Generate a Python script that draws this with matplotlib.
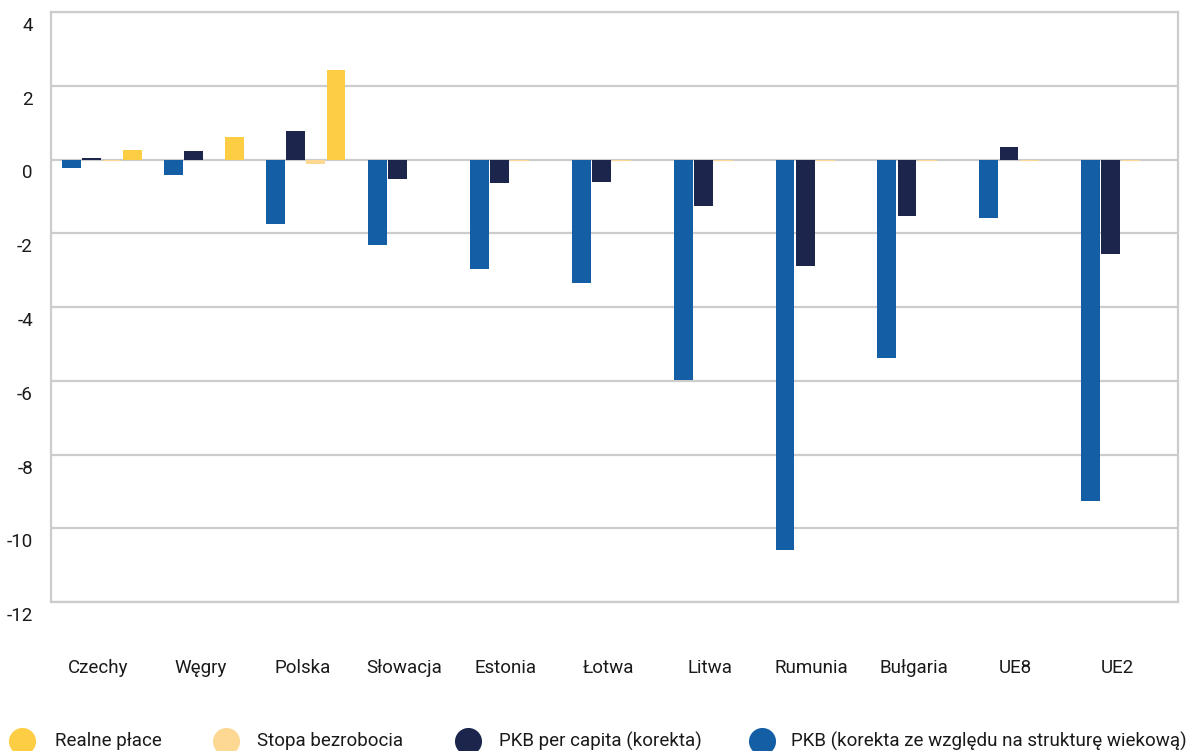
import matplotlib
matplotlib.use('Agg')
import matplotlib.pyplot as plt
from matplotlib.lines import Line2D
from matplotlib.transforms import ScaledTranslation
import numpy as np

plt.rcParams['font.family'] = ['Roboto', 'DejaVu Sans']

categories = ['Czechy', 'Węgry', 'Polska', 'Słowacja', 'Estonia', 'Łotwa',
              'Litwa', 'Rumunia', 'Bułgaria', 'UE8', 'UE2']
pkb_wiek = [-0.24, -0.41, -1.76, -2.33, -2.98, -3.34, -5.97, -10.6, -5.37, -1.59, -9.25]
pkb_pc = [0.05, 0.22, 0.76, -0.52, -0.65, -0.62, -1.25, -2.9, -1.52, 0.35, -2.55]
stopa = [-0.05, 0.0, -0.11, -0.01, -0.04, -0.04, -0.03, -0.03, -0.03, -0.05, -0.03]
realne = [0.27, 0.62, 2.44, 0.0, 0.0, 0.0, 0.0, 0.0, 0.0, 0.0, 0.0]
yticks = [4, 2, 0, -2, -4, -6, -8, -10, -12]
legend_labels = ['Realne płace', 'Stopa bezrobocia', 'PKB per capita (korekta)',
                 'PKB (korekta ze względu na strukturę wiekową)']

c_blue = '#135EA5'
c_navy = '#1C264D'
c_light = '#FDD892'
c_yellow = '#FDCD43'

W, H = 1193, 751
fig = plt.figure(figsize=(W / 100, H / 100), dpi=100)
ax_w = 1177.5 - 51
ax = fig.add_axes([51 / W, 1 - 602 / H, ax_w / W, (602 - 12) / H])

x = np.arange(len(categories))
bw = 0.185
step = 0.198
series = [(pkb_wiek, c_blue), (pkb_pc, c_navy), (stopa, c_light), (realne, c_yellow)]
for j, (vals, col) in enumerate(series):
    ax.bar(x + (j - 1.5) * step, vals, width=bw, color=col, zorder=3)

pitch = 101.9
ax.set_xlim(-0.5, -0.5 + ax_w / pitch)
ax.set_ylim(-12, 4)
ax.set_axisbelow(True)
ax.set_yticks(yticks)
ax.grid(axis='y', color='#cccccc', linewidth=1.6)
for s in ax.spines.values():
    s.set_color('#cccccc')
    s.set_linewidth(1.6)

ax.tick_params(axis='y', length=0, pad=13, labelsize=13.5, labelcolor='#1a1a1a')
ax.set_yticklabels([str(t) for t in yticks])
off = ScaledTranslation(0, -0.12, fig.dpi_scale_trans)
for lab in ax.get_yticklabels():
    lab.set_transform(lab.get_transform() + off)

ax.set_xticks(x)
ax.set_xticklabels(categories)
ax.tick_params(axis='x', length=0, pad=41, labelsize=13.5, labelcolor='#1a1a1a')
offx = ScaledTranslation(-0.035, 0, fig.dpi_scale_trans)
for lab in ax.get_xticklabels():
    lab.set_transform(lab.get_transform() + offx)

leg_colors = [c_yellow, c_light, c_navy, c_blue]
circ_x = [22, 226, 468, 762]
text_x = [55, 257, 499, 791]
ly = 741
for lab, col, cx, tx in zip(legend_labels, leg_colors, circ_x, text_x):
    fig.add_artist(Line2D([cx / W], [1 - ly / H], marker='o', markersize=19.5,
                          color=col, markeredgewidth=0, linestyle='none',
                          transform=fig.transFigure))
    fig.text(tx / W, 1 - ly / H, lab, fontsize=13.5, va='center', ha='left',
             color='#1a1a1a')

fig.savefig('out.png', dpi=100)
